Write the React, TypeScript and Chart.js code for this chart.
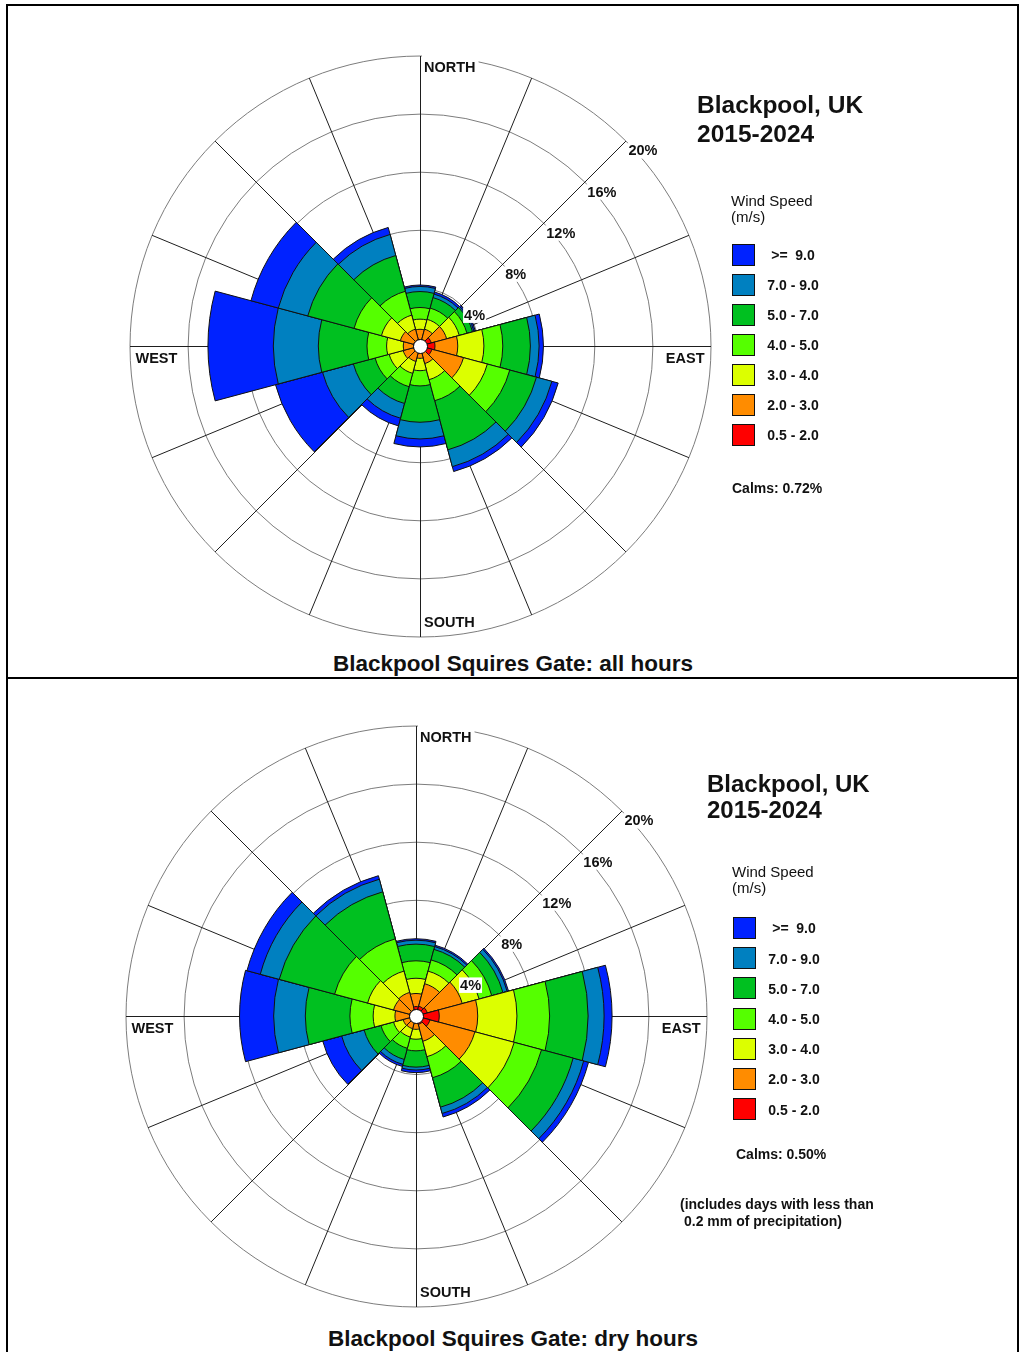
import React, { useEffect, useRef } from 'react';
import { Chart, registerables } from 'chart.js';

Chart.register(...registerables);

// ---- categories ----
const DIRECTIONS = ['N', 'NNE', 'ENE', 'E', 'ESE', 'SSE', 'S', 'SSW', 'WSW', 'W', 'WNW', 'NNW'];
const SPEED_BINS = ['0.5 - 2.0', '2.0 - 3.0', '3.0 - 4.0', '4.0 - 5.0', '5.0 - 7.0', '7.0 - 9.0', '>=  9.0'];
const BIN_COLORS = ['#ff0000', '#ff8c00', '#dcff00', '#55ff00', '#00c020', '#0080c0', '#0022ff'];
const RING_TICKS = [4, 8, 12, 16, 20];
const RING_LABELS = ['4%', '8%', '12%', '16%', '20%'];
const COMPASS = ['NORTH', 'EAST', 'SOUTH', 'WEST'];

// ---- all hours: frequency (%) per speed bin, by direction ----
const ALL_05_2 = [0.45, 0.45, 0.8, 1.03, 0.85, 0.45, 0.4, 0.4, 0.45, 0.45, 0.45, 0.45];
const ALL_2_3 = [0.7, 0.75, 1.1, 1.57, 2.25, 0.8, 0.45, 0.7, 0.75, 0.7, 0.95, 0.75];
const ALL_3_4 = [0.7, 0.7, 0.9, 1.8, 1.7, 1.15, 0.85, 0.85, 1.0, 1.15, 1.35, 1.0];
const ALL_4_5 = [0.8, 0.8, 0.55, 1.3, 1.6, 1.5, 1.05, 0.95, 1.0, 1.35, 1.95, 1.7];
const ALL_5_7 = [1.1, 0.75, 0.4, 1.9, 1.9, 3.5, 2.5, 1.2, 1.55, 3.35, 3.3, 2.55];
const ALL_7_9 = [0.35, 0.25, 0.1, 0.6, 1.1, 1.2, 1.15, 1.05, 2.2, 3.1, 2.1, 1.5];
const ALL_9 = [0.1, 0.15, 0.1, 0.3, 0.45, 0.35, 0.55, 0.55, 3.35, 4.5, 1.95, 0.5];

// ---- dry hours ----
const DRY_05_2 = [0.65, 0.7, 0.8, 1.6, 1.0, 0.6, 0.4, 0.4, 0.4, 0.45, 0.45, 0.45];
const DRY_2_3 = [0.9, 1.6, 2.5, 2.65, 3.2, 1.2, 0.52, 0.5, 0.52, 1.0, 1.15, 1.23];
const DRY_3_4 = [1.05, 0.9, 1.2, 2.7, 2.8, 1.1, 0.68, 0.6, 0.68, 1.5, 1.85, 1.52];
const DRY_4_5 = [1.2, 0.8, 0.9, 2.25, 1.95, 1.5, 0.8, 0.8, 0.9, 1.6, 2.35, 2.3];
const DRY_5_7 = [1.15, 0.75, 0.8, 2.65, 2.25, 2.1, 1.12, 0.8, 1.2, 3.07, 3.95, 3.35];
const DRY_7_9 = [0.27, 0.2, 0.3, 1.1, 0.75, 0.45, 0.2, 0.35, 1.6, 2.18, 1.35, 0.9];
const DRY_9 = [0.1, 0.1, 0.1, 0.55, 0.35, 0.25, 0.18, 0.15, 1.35, 2.35, 0.95, 0.25];

const ALL_BINS = [ALL_05_2, ALL_2_3, ALL_3_4, ALL_4_5, ALL_5_7, ALL_7_9, ALL_9];
const DRY_BINS = [DRY_05_2, DRY_2_3, DRY_3_4, DRY_4_5, DRY_5_7, DRY_7_9, DRY_9];

const FONT = '"Liberation Sans", Arial, Helvetica, sans-serif';
const HALF = 300; // canvas half size
const R_OUT = 290.5; // outer ring radius in px
const SCALE_MAX = (RING_TICKS[RING_TICKS.length - 1] * HALF) / R_OUT;

function cumulative(bins: number[][]): number[][] {
  const out: number[][] = [];
  bins.forEach((b, i) => {
    out.push(b.map((v, j) => (i === 0 ? v : out[i - 1][j] + v)));
  });
  return out;
}

const roseGrid = {
  id: 'roseGrid',
  beforeDatasetsDraw(chart: any) {
    const s = chart.scales.r;
    const ctx = chart.ctx as CanvasRenderingContext2D;
    const cx = s.xCenter + 0.5;
    const cy = s.yCenter + 0.5;
    ctx.save();
    ctx.lineWidth = 1;
    ctx.strokeStyle = '#7c7c7c';
    RING_TICKS.forEach((v) => {
      const r = s.getDistanceFromCenterForValue(v);
      ctx.beginPath();
      ctx.arc(cx, cy, r, 0, Math.PI * 2);
      ctx.stroke();
    });
    const R = s.getDistanceFromCenterForValue(RING_TICKS[RING_TICKS.length - 1]);
    ctx.strokeStyle = '#1e1e1e';
    for (let i = 0; i < 16; i++) {
      const a = (i * Math.PI) / 8;
      ctx.beginPath();
      ctx.moveTo(cx, cy);
      ctx.lineTo(cx + R * Math.sin(a), cy - R * Math.cos(a));
      ctx.stroke();
    }
    ctx.restore();
  },
  afterDatasetsDraw(chart: any) {
    const s = chart.scales.r;
    const ctx = chart.ctx as CanvasRenderingContext2D;
    const cx = s.xCenter;
    const cy = s.yCenter;
    ctx.save();
    // calm circle
    ctx.beginPath();
    ctx.arc(cx + 0.5, cy + 0.5, 7, 0, Math.PI * 2);
    ctx.fillStyle = '#ffffff';
    ctx.fill();
    ctx.strokeStyle = '#000';
    ctx.lineWidth = 1;
    ctx.stroke();

    ctx.font = `bold 14.5px ${FONT}`;
    ctx.textBaseline = 'alphabetic';
    // ring labels
    const c45 = Math.SQRT1_2;
    RING_TICKS.forEach((v, i) => {
      const r = s.getDistanceFromCenterForValue(v);
      const px = cx + r * c45 + 3;
      const capTop = cy - r * c45 + 4.5;
      const w = ctx.measureText(RING_LABELS[i]).width;
      ctx.fillStyle = '#ffffff';
      ctx.fillRect(px - 1, capTop - 2, w + 2, 15.5);
      ctx.fillStyle = '#111';
      ctx.textAlign = 'left';
      ctx.fillText(RING_LABELS[i], px, capTop + 10.4);
    });
    // compass labels
    const R = s.getDistanceFromCenterForValue(RING_TICKS[RING_TICKS.length - 1]);
    const nW = ctx.measureText(COMPASS[0]).width;
    ctx.fillStyle = '#ffffff';
    ctx.fillRect(cx + 2, cy - R - 3, nW + 5, 21);
    ctx.fillStyle = '#111';
    ctx.textAlign = 'left';
    ctx.fillText(COMPASS[0], cx + 4, cy - R + 16.5);
    ctx.fillText(COMPASS[2], cx + 4, cy + R - 9.5);
    ctx.fillText(COMPASS[3], cx - R + 6, cy + 16.5);
    ctx.textAlign = 'right';
    ctx.fillText(COMPASS[1], cx + R - 6, cy + 16.5);
    ctx.restore();
  },
};

function WindRose({ bins, cx, cy }: { bins: number[][]; cx: number; cy: number }) {
  const ref = useRef<HTMLCanvasElement | null>(null);
  useEffect(() => {
    if (!ref.current) return;
    const cum = cumulative(bins);
    const chart = new Chart(ref.current, {
      type: 'polarArea',
      data: {
        labels: DIRECTIONS,
        datasets: cum.map((data, i) => ({
          label: SPEED_BINS[i],
          data,
          backgroundColor: BIN_COLORS[i],
          borderColor: '#111111',
          borderWidth: 1,
        })),
      },
      options: {
        responsive: false,
        animation: false,
        events: [],
        layout: { padding: 0 },
        plugins: { legend: { display: false }, tooltip: { enabled: false } },
        scales: {
          r: {
            min: 0,
            max: SCALE_MAX,
            startAngle: -15,
            ticks: { display: false },
            grid: { display: false },
            angleLines: { display: false },
            pointLabels: { display: false },
          },
        },
      } as any,
      plugins: [roseGrid as any],
    });
    return () => chart.destroy();
  }, [bins]);
  return (
    <canvas
      ref={ref}
      width={HALF * 2}
      height={HALF * 2}
      style={{ position: 'absolute', left: cx - HALF, top: cy - HALF, width: HALF * 2, height: HALF * 2 }}
    />
  );
}

function Txt({
  x,
  y,
  size,
  bold,
  center,
  children,
}: {
  x: number;
  y: number;
  size: number;
  bold?: boolean;
  center?: boolean;
  children: React.ReactNode;
}) {
  const top = y - 0.8465 * size;
  return (
    <div
      style={{
        position: 'absolute',
        left: center ? x - 300 : x,
        width: center ? 600 : undefined,
        textAlign: center ? 'center' : 'left',
        top,
        fontFamily: FONT,
        fontSize: size,
        lineHeight: `${size}px`,
        fontWeight: bold ? 'bold' : 'normal',
        whiteSpace: 'pre',
        color: '#111',
      }}
    >
      {children}
    </div>
  );
}

function Legend({ x, top, step, labelX, calmsX, calmsY, calms }: any) {
  const order = [6, 5, 4, 3, 2, 1, 0];
  return (
    <>
      {order.map((bi, k) => {
        const t = top + k * step;
        return (
          <React.Fragment key={bi}>
            <div
              style={{
                position: 'absolute',
                left: x,
                top: t,
                width: 23,
                height: 22,
                boxSizing: 'border-box',
                border: '1px solid #111',
                background: BIN_COLORS[bi],
              }}
            />
            <Txt x={labelX} y={t + 16.2} size={14} bold center>
              {SPEED_BINS[bi]}
            </Txt>
          </React.Fragment>
        );
      })}
      <Txt x={calmsX} y={calmsY} size={14} bold>
        {calms}
      </Txt>
    </>
  );
}

export default function App() {
  return (
    <div style={{ position: 'absolute', left: 0, top: 0, width: 1021, height: 1352, overflow: 'hidden', background: '#fff' }}>
      <div style={{ position: 'absolute', left: 6, top: 4, width: 1013, height: 675, boxSizing: 'border-box', border: '2px solid #000' }} />
      <div style={{ position: 'absolute', left: 6, top: 677, width: 1013, height: 720, boxSizing: 'border-box', border: '2px solid #000' }} />

      <WindRose bins={ALL_BINS} cx={420} cy={346} />
      <Txt x={697} y={114} size={24.5} bold>Blackpool, UK</Txt>
      <Txt x={697} y={143} size={24.5} bold>2015-2024</Txt>
      <Txt x={731} y={206} size={15}>Wind Speed</Txt>
      <Txt x={731} y={221.5} size={15}>(m/s)</Txt>
      <Legend x={732} top={244} step={30} labelX={793} calmsX={732} calmsY={493} calms="Calms: 0.72%" />
      <Txt x={513} y={672} size={22.5} bold center>Blackpool Squires Gate: all hours</Txt>

      <WindRose bins={DRY_BINS} cx={416} cy={1016} />
      <Txt x={707} y={792} size={24} bold>Blackpool, UK</Txt>
      <Txt x={707} y={818.5} size={24} bold>2015-2024</Txt>
      <Txt x={732} y={877} size={15}>Wind Speed</Txt>
      <Txt x={732} y={893} size={15}>(m/s)</Txt>
      <Legend x={733} top={917} step={30.2} labelX={794} calmsX={736} calmsY={1159} calms="Calms: 0.50%" />
      <Txt x={680} y={1208.5} size={14} bold>(includes days with less than</Txt>
      <Txt x={684} y={1225.5} size={14} bold>0.2 mm of precipitation)</Txt>
      <Txt x={513} y={1347} size={22.5} bold center>Blackpool Squires Gate: dry hours</Txt>
    </div>
  );
}
